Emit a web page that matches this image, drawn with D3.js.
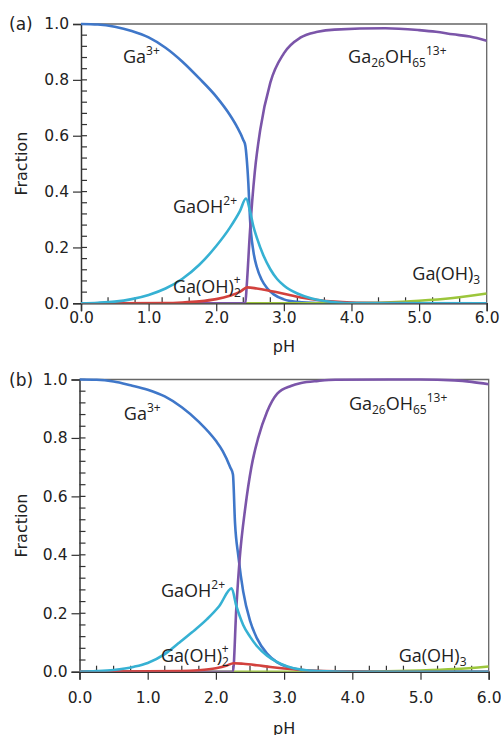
<!DOCTYPE html>
<html>
<head>
<meta charset="utf-8">
<script src="https://cdn.jsdelivr.net/npm/d3@7"></script>
<style>
  body { margin: 0; background: #fff; }
  svg text { fill: #222; }
</style>
</head>
<body>
<svg id="chart" width="501" height="735"></svg>
<script>
// speciation data, [pH, fraction] pairs
// panel (a)
var ga3A = [[0,1.0],[0.25,0.998],[0.5,0.99],[0.75,0.975],[1.0,0.952],[1.25,0.915],[1.5,0.865],[1.75,0.805],[2.0,0.74],[2.2,0.675],[2.3,0.635],[2.4,0.585],[2.43,0.565],[2.45,0.52],[2.475,0.43],[2.5,0.3],[2.55,0.185],[2.6,0.13],[2.67,0.085],[2.75,0.055],[2.85,0.032],[3.0,0.014],[3.2,0.005],[3.5,0.001],[4.0,0],[6.0,0]];
var gaOHA = [[0,0],[0.25,0.002],[0.5,0.006],[0.75,0.015],[1.0,0.03],[1.25,0.053],[1.5,0.088],[1.75,0.138],[2.0,0.205],[2.2,0.27],[2.35,0.33],[2.44,0.375],[2.5,0.33],[2.55,0.275],[2.6,0.235],[2.7,0.17],[2.8,0.122],[2.9,0.087],[3.0,0.064],[3.2,0.035],[3.4,0.018],[3.6,0.008],[3.8,0.003],[4.0,0.001],[6.0,0]];
var gaOH2A = [[0,0],[1.25,0.001],[1.5,0.003],[1.75,0.007],[2.0,0.015],[2.2,0.027],[2.35,0.041],[2.46,0.057],[2.6,0.053],[2.75,0.047],[3.0,0.034],[3.25,0.021],[3.5,0.012],[3.75,0.006],[4.0,0.003],[4.5,0.001],[5.0,0],[6.0,0]];
var gaOH3A = [[0,0],[3.5,0],[4.0,0.001],[4.5,0.003],[5.0,0.009],[5.5,0.019],[6.0,0.035]];
var ga26A = [[0,0],[2.43,0],[2.45,0.06],[2.5,0.26],[2.57,0.47],[2.65,0.62],[2.8,0.79],[3.0,0.895],[3.25,0.952],[3.5,0.972],[3.75,0.98],[4.5,0.985],[5.0,0.978],[5.25,0.972],[5.5,0.963],[5.75,0.955],[6.0,0.94]];

// panel (b)
var ga3B = [[0,1.0],[0.25,0.999],[0.5,0.993],[0.75,0.98],[1.0,0.965],[1.25,0.942],[1.5,0.905],[1.75,0.855],[2.0,0.79],[2.1,0.755],[2.21,0.70],[2.25,0.675],[2.28,0.51],[2.33,0.394],[2.4,0.275],[2.5,0.175],[2.6,0.115],[2.75,0.062],[2.9,0.032],[3.05,0.016],[3.25,0.006],[3.5,0.001],[4.0,0],[6.0,0]];
var gaOHB = [[0,0],[0.25,0.002],[0.5,0.006],[0.8,0.017],[1.0,0.03],[1.25,0.06],[1.45,0.097],[1.65,0.135],[1.87,0.18],[2.05,0.225],[2.23,0.285],[2.3,0.225],[2.4,0.16],[2.5,0.12],[2.6,0.088],[2.75,0.055],[2.9,0.033],[3.05,0.018],[3.25,0.007],[3.5,0.002],[4.0,0],[6.0,0]];
var gaOH2B = [[0,0],[1.5,0.002],[1.75,0.005],[2.0,0.012],[2.15,0.02],[2.26,0.029],[2.4,0.027],[2.6,0.022],[2.8,0.016],[3.0,0.011],[3.25,0.006],[3.5,0.003],[4.0,0.001],[4.5,0],[6.0,0]];
var gaOH3B = [[0,0],[4.0,0],[4.5,0.001],[5.0,0.004],[5.5,0.009],[6.0,0.018]];
var ga26B = [[0,0],[2.25,0],[2.3,0.22],[2.35,0.39],[2.43,0.56],[2.52,0.70],[2.62,0.80],[2.75,0.89],[2.9,0.952],[3.1,0.978],[3.25,0.988],[3.5,0.995],[3.75,0.999],[5.0,1.0],[5.5,0.997],[5.75,0.992],[6.0,0.984]];

var xTicks = [0, 1, 2, 3, 4, 5, 6];
var yTicks = [0, 0.2, 0.4, 0.6, 0.8, 1.0];

var colors = {
  ga3: "#3f77c9",
  ga26: "#7b55a9",
  gaOH: "#36b1d3",
  gaOH2: "#d2413d",
  gaOH3: "#9cc63b"
};

var svg = d3.select("#chart");

var panels = [
  {
    tag: "(a)", left: 81, right: 486.7, top: 24, bottom: 303.3, xMinorStep: 0.4, xLabelGap: 9, pHy: 352,
    series: { ga3: ga3A, gaOH: gaOHA, gaOH2: gaOH2A, gaOH3: gaOH3A, ga26: ga26A },
    labels: { ga3: [0.62, 0.86], ga26: [3.95, 0.86], gaOH: [1.36, 0.323], gaOH2: [1.36, 0.037], gaOH3: [4.9, 0.083] }
  },
  {
    tag: "(b)", left: 79.5, right: 488.7, top: 379.5, bottom: 671.7, xMinorStep: 0.25, xLabelGap: 20, pHy: 734,
    series: { ga3: ga3B, gaOH: gaOHB, gaOH2: gaOH2B, gaOH3: gaOH3B, ga26: ga26B },
    labels: { ga3: [0.65, 0.861], ga26: [3.95, 0.896], gaOH: [1.195, 0.256], gaOH2: [1.195, 0.033], gaOH3: [4.68, 0.033] }
  }
];

panels.forEach(function (p, i) {
  var x = d3.scaleLinear().domain([0, 6]).range([p.left, p.right]);
  var y = d3.scaleLinear().domain([0, 1]).range([p.bottom, p.top]);
  var g = svg.append("g");

  g.append("clipPath").attr("id", "clip" + i)
    .append("rect")
    .attr("x", p.left).attr("y", p.top - 2)
    .attr("width", p.right - p.left).attr("height", p.bottom - p.top + 2);

  // frame: top + right
  g.append("path")
    .attr("d", "M" + p.left + "," + p.top + "H" + p.right + "V" + p.bottom)
    .attr("fill", "none").attr("stroke", "#666").attr("stroke-width", 1.3);

  // minor ticks (inside)
  var xMinor = d3.range(0, 6.0001, p.xMinorStep).filter(function (v) { return Math.abs(v - Math.round(v)) > 1e-6; });
  var yMinor = d3.range(0, 1.0001, 0.04);
  g.append("g").selectAll("line").data(xMinor).enter().append("line")
    .attr("x1", function (d) { return x(d); }).attr("x2", function (d) { return x(d); })
    .attr("y1", p.bottom).attr("y2", p.bottom - 6)
    .attr("stroke", "#333").attr("stroke-width", 1.2);
  g.append("g").selectAll("line").data(yMinor).enter().append("line")
    .attr("x1", p.left).attr("x2", p.left + 6)
    .attr("y1", function (d) { return y(d); }).attr("y2", function (d) { return y(d); })
    .attr("stroke", "#333").attr("stroke-width", 1.2);

  // axes with major ticks outside
  var xAxis = g.append("g").attr("transform", "translate(0," + p.bottom + ")")
    .call(d3.axisBottom(x).tickValues(xTicks).tickFormat(d3.format(".1f")).tickSize(8).tickPadding(p.xLabelGap - 8));
  var yAxis = g.append("g").attr("transform", "translate(" + p.left + ",0)")
    .call(d3.axisLeft(y).tickValues(yTicks).tickFormat(d3.format(".1f")).tickSize(8).tickPadding(4));
  [xAxis, yAxis].forEach(function (a) {
    a.select(".domain").attr("stroke", "#333").attr("stroke-width", 1.5);
    a.selectAll(".tick line").attr("stroke", "#333").attr("stroke-width", 1.2);
    a.selectAll(".tick text").attr("font-family", "DejaVu Sans, Verdana, sans-serif")
      .attr("font-size", 15.5).attr("fill", "#222");
  });

  // curves
  var line = d3.line()
    .x(function (d) { return x(d[0]); })
    .y(function (d) { return y(d[1]); })
    .curve(d3.curveMonotoneX);
  var order = ["ga3", "gaOH3", "ga26", "gaOH2", "gaOH"];
  g.append("g").attr("clip-path", "url(#clip" + i + ")")
    .selectAll("path").data(order).enter().append("path")
    .attr("d", function (k) { return line(p.series[k]); })
    .attr("fill", "none")
    .attr("stroke", function (k) { return colors[k]; })
    .attr("stroke-width", 2.6)
    .attr("stroke-linejoin", "round");

  // axis titles
  g.append("text")
    .attr("transform", "translate(27," + ((p.top + p.bottom) / 2) + ") rotate(-90)")
    .attr("text-anchor", "middle")
    .attr("font-family", "DejaVu Sans, Verdana, sans-serif").attr("font-size", 16)
    .text("Fraction");
  g.append("text")
    .attr("x", (p.left + p.right) / 2).attr("y", p.pHy)
    .attr("text-anchor", "middle")
    .attr("font-family", "DejaVu Sans, Verdana, sans-serif").attr("font-size", 16)
    .text("pH");
  g.append("text")
    .attr("x", 9).attr("y", p.top + 6)
    .attr("font-family", "DejaVu Sans, Verdana, sans-serif").attr("font-size", 17)
    .text(p.tag);

  // species labels
  var lf = "Open Sans, Noto Sans, sans-serif";
  function lab(key) {
    return g.append("text")
      .attr("x", x(p.labels[key][0])).attr("y", y(p.labels[key][1]))
      .attr("font-family", lf).attr("font-size", 18);
  }
  var t = lab("ga3");
  t.append("tspan").text("Ga");
  t.append("tspan").attr("dy", -8).attr("font-size", 12).text("3+");

  t = lab("ga26");
  t.append("tspan").text("Ga");
  t.append("tspan").attr("dy", 4).attr("font-size", 12).text("26");
  t.append("tspan").attr("dy", -4).text("OH");
  t.append("tspan").attr("dy", 4).attr("font-size", 12).text("65");
  t.append("tspan").attr("dy", -12).attr("font-size", 12).text("13+");

  t = lab("gaOH");
  t.append("tspan").text("GaOH");
  t.append("tspan").attr("dy", -8).attr("font-size", 12).text("2+");

  t = lab("gaOH2");
  t.append("tspan").text("Ga(OH)");
  t.append("tspan").attr("dy", 4).attr("font-size", 12).text("2");
  t.append("tspan").attr("dx", -7).attr("dy", -13).attr("font-size", 12).text("+");

  t = lab("gaOH3");
  t.append("tspan").text("Ga(OH)");
  t.append("tspan").attr("dy", 4).attr("font-size", 12).text("3");
});
</script>
</body>
</html>
